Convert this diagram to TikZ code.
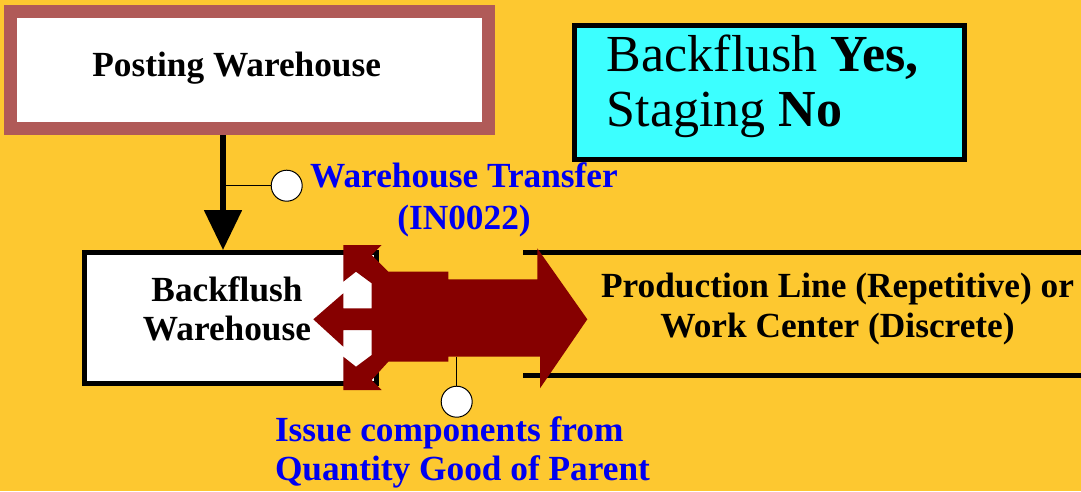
\documentclass[tikz,border=0pt]{standalone}
\usepackage{fontspec}
\setmainfont{Liberation Serif}
\usetikzlibrary{arrows.meta}
\definecolor{bgyellow}{RGB}{253,200,48}
\definecolor{rosy}{RGB}{176,90,88}
\definecolor{cyanbox}{RGB}{60,255,255}
\definecolor{darkred}{RGB}{134,0,0}
\definecolor{txtblue}{RGB}{0,0,240}
\begin{document}
\begin{tikzpicture}[x=1pt,y=-1pt,
  lbl/.style={font=\fontsize{35.3}{40}\selectfont\bfseries, inner sep=0pt, outer sep=0pt, anchor=base},
  thickbox/.style={draw=black, line width=5pt, inner sep=0pt},
  callout/.style={circle, draw=black, line width=1pt, fill=white, minimum size=31pt, inner sep=0pt},
  thin/.style={draw=black, line width=1pt},
  flowarrow/.style={line width=5.3pt, -{Triangle[width=37pt,length=40pt]}}]
\fill[bgyellow] (0,0) rectangle (1081,491);
\useasboundingbox (0,0) rectangle (1081,491);

% Posting warehouse
\node[draw=rosy, line width=13pt, fill=white, minimum width=478pt, minimum height=117pt, inner sep=0pt] (post) at (249.5,70) {};
\node[lbl] (posttxt) at (236.7,76.7) {Posting Warehouse};

% Backflush Yes box
\node[thickbox, fill=cyanbox, minimum width=389.4pt, minimum height=133.4pt] (bfy) at (769.5,92.5) {};
\node[anchor=base west, inner sep=0pt, font=\fontsize{52}{55}\selectfont] (bfytxt) at (606.7,71.7)
  {\begin{tabular}[t]{@{}l@{}}Backflush \textbf{Yes,}\\Staging \textbf{No}\end{tabular}};

% Production line frame
\node[minimum width=558pt, minimum height=123.3pt, inner sep=0pt, outer sep=0pt] (prod) at (802,314.15) {};
\draw[line width=5pt] (prod.north west) -- (prod.north east);
\draw[line width=5pt] (prod.south west) -- (prod.south east);
\node[lbl, font=\fontsize{35.3}{40.4}\selectfont\bfseries] (prodtxt) at (837.5,297.3)
  {\begin{tabular}[t]{@{}c@{}}Production Line (Repetitive) or\\Work Center (Discrete)\end{tabular}};

% Backflush warehouse
\node[thickbox, fill=white, minimum width=292pt, minimum height=131pt] (bfw) at (230.5,318) {};
\node[lbl, font=\fontsize{35.3}{39}\selectfont\bfseries] (bfwtxt) at (227,301)
  {\begin{tabular}[t]{@{}c@{}}Backflush\\Warehouse\end{tabular}};

% Transfer arrow
\coordinate (ax) at (223,0);
\draw[flowarrow] (post.south -| ax) -- (bfw.north -| ax);

% Warehouse transfer callout
\coordinate (j1) at (223,185.7);
\node[callout] (c1) at (286.7,185.7) {};
\draw[thin] (j1) -- (c1.west);
\node[lbl, text=txtblue, font=\fontsize{35.3}{42}\selectfont\bfseries] (wttxt) at (464,187)
  {\begin{tabular}[t]{@{}c@{}}Warehouse Transfer\\(IN0022)\end{tabular}};

% Red issue arrow
\fill[darkred] (343.3,245) -- (381.7,245) -- (371.7,255) -- (388.3,271.7) -- (448.3,271.7)
  -- (448.3,279.3) -- (537.3,279.3) -- (537.3,248.3) -- (587.3,319.3) -- (540,388.3)
  -- (540,356.7) -- (448.3,356.7) -- (448.3,361.7) -- (388.3,361.7) -- (371.7,380)
  -- (381.7,390) -- (343.3,390) -- (343.3,356.7) -- (356,366.7) -- (371.7,355)
  -- (371.7,330) -- (343.3,330) -- (343.3,346.7) -- (313.3,319.3) -- (343.3,293.3)
  -- (343.3,308.3) -- (371.7,308.3) -- (371.7,283.3) -- (356,271.7) -- (343.3,281.7) -- cycle;

% Issue callout
\coordinate (j2) at (456.7,356.7);
\node[callout] (c2) at (456.7,401.7) {};
\draw[thin] (j2) -- (c2.north);
\node[lbl, anchor=base west, text=txtblue, font=\fontsize{35.3}{38.3}\selectfont\bfseries] (ictxt) at (275,441.7)
  {\begin{tabular}[t]{@{}l@{}}Issue components from\\Quantity Good of Parent\end{tabular}};
\end{tikzpicture}
\end{document}
